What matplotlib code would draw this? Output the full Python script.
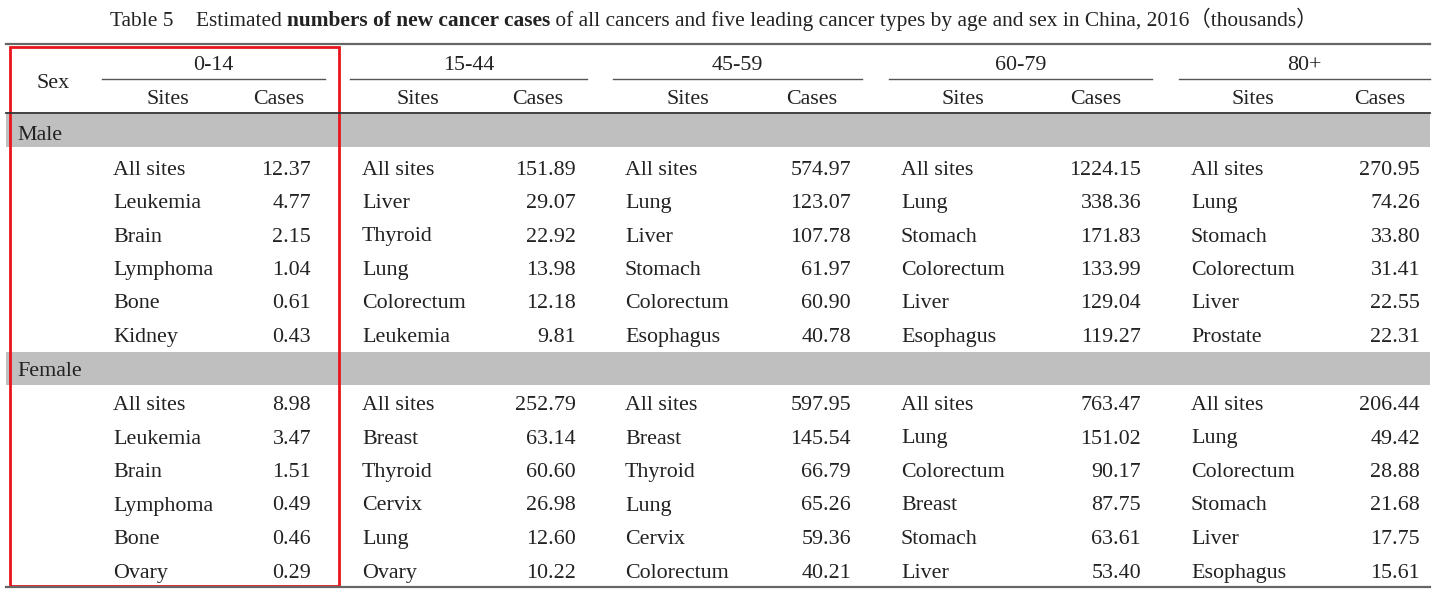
import matplotlib.pyplot as plt
from matplotlib.patches import Rectangle

# table content
age_groups = ["0-14", "15-44", "45-59", "60-79", "80+"]

male_sites = [
    ["All sites", "Leukemia", "Brain", "Lymphoma", "Bone", "Kidney"],
    ["All sites", "Liver", "Thyroid", "Lung", "Colorectum", "Leukemia"],
    ["All sites", "Lung", "Liver", "Stomach", "Colorectum", "Esophagus"],
    ["All sites", "Lung", "Stomach", "Colorectum", "Liver", "Esophagus"],
    ["All sites", "Lung", "Stomach", "Colorectum", "Liver", "Prostate"],
]
male_cases = [
    [12.37, 4.77, 2.15, 1.04, 0.61, 0.43],
    [151.89, 29.07, 22.92, 13.98, 12.18, 9.81],
    [574.97, 123.07, 107.78, 61.97, 60.90, 40.78],
    [1224.15, 338.36, 171.83, 133.99, 129.04, 119.27],
    [270.95, 74.26, 33.80, 31.41, 22.55, 22.31],
]
female_sites = [
    ["All sites", "Leukemia", "Brain", "Lymphoma", "Bone", "Ovary"],
    ["All sites", "Breast", "Thyroid", "Cervix", "Lung", "Ovary"],
    ["All sites", "Breast", "Thyroid", "Lung", "Cervix", "Colorectum"],
    ["All sites", "Lung", "Colorectum", "Breast", "Stomach", "Liver"],
    ["All sites", "Lung", "Colorectum", "Stomach", "Liver", "Esophagus"],
]
female_cases = [
    [8.98, 3.47, 1.51, 0.49, 0.46, 0.29],
    [252.79, 63.14, 60.60, 26.98, 12.60, 10.22],
    [597.95, 145.54, 66.79, 65.26, 59.36, 40.21],
    [763.47, 151.02, 90.17, 87.75, 63.61, 53.40],
    [206.44, 49.42, 28.88, 21.68, 17.75, 15.61],
]

# layout in pixels (baselines for text)
W, H = 1440, 593
site_x = [113, 362, 625, 901, 1191]
case_x = [311, 576, 851, 1141, 1420]
sites_hdr_x = [168, 418, 688, 963, 1253]
cases_hdr_x = [279, 538, 812, 1096, 1380]
group_lines = [(102, 325), (350, 587), (613, 862), (889, 1152), (1179, 1430)]
male_rows_y = [175, 208, 241.5, 275, 308.5, 342]
female_rows_y = [410, 443.5, 477, 510.5, 544, 578]

FONT = ["Liberation Serif", "Noto Sans CJK SC"]
FS = 15.8
TXT = "#222222"

fig = plt.figure(figsize=(W / 100, H / 100), dpi=100)
ax = fig.add_axes([0, 0, 1, 1])
ax.set_xlim(0, W)
ax.set_ylim(H, 0)
ax.axis("off")

def put(x, y, s, ha="left", size=FS, weight="normal"):
    return ax.text(x, y, s, ha=ha, va="baseline", fontsize=size, family=FONT,
                   color=TXT, fontweight=weight)

# title, pieces chained one after another
renderer = fig.canvas.get_renderer()
TFS = 15.4
put(110, 26, "Table 5", size=TFS)
pieces = [("Estimated ", "normal"), ("numbers of new cancer cases", "bold"),
          (" of all cancers and five leading cancer types by age and sex in China, 2016（thousands）", "normal")]
tx = 196
for s, w in pieces:
    t = put(tx, 26, s, size=TFS, weight=w)
    tx = t.get_window_extent(renderer).x1

# rules
ax.plot([6, 1430], [44, 44], color="#666666", lw=1.6)
ax.plot([6, 1430], [112.5, 112.5], color="#333333", lw=1.3)
ax.plot([6, 1430], [587, 587], color="#666666", lw=1.6)
for x0, x1 in group_lines:
    ax.plot([x0, x1], [79, 79], color="#555555", lw=1.0)

# grey bands
ax.add_patch(Rectangle((6, 113.5), 1424, 33, color="#bfbfbf", lw=0))
ax.add_patch(Rectangle((6, 351.5), 1424, 33, color="#bfbfbf", lw=0))
put(17, 139.5, "Male")
put(17, 376, "Female")

# headers
put(53, 87.5, "Sex", ha="center")
for i, g in enumerate(age_groups):
    put((group_lines[i][0] + group_lines[i][1]) / 2, 70, g, ha="center")
    put(sites_hdr_x[i], 104.5, "Sites", ha="center")
    put(cases_hdr_x[i], 104.5, "Cases", ha="center")

# body
for i in range(len(age_groups)):
    for j, y in enumerate(male_rows_y):
        put(site_x[i], y, male_sites[i][j])
        put(case_x[i], y, f"{male_cases[i][j]:.2f}", ha="right")
    for j, y in enumerate(female_rows_y):
        put(site_x[i], y, female_sites[i][j])
        put(case_x[i], y, f"{female_cases[i][j]:.2f}", ha="right")

# red highlight box
ax.add_patch(Rectangle((9.5, 46.5), 329.5, 539.5, fill=False, edgecolor="#e8141b", lw=2))

fig.savefig("out.png", dpi=100)
